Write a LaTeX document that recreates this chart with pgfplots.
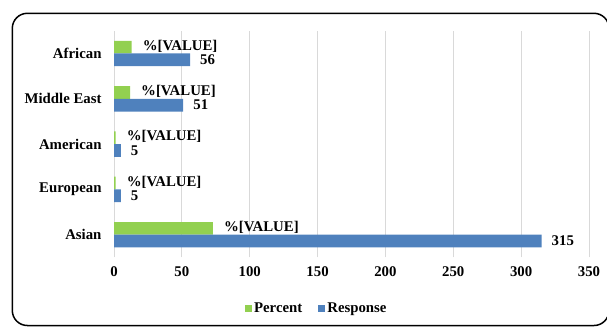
\documentclass[border=0pt]{standalone}
\usepackage{fontspec}
\setmainfont{Liberation Serif}
\usepackage{pgfplots}
\pgfplotsset{compat=1.18}
\definecolor{pgreen}{RGB}{146,208,80}
\definecolor{rblue}{RGB}{79,129,189}
\definecolor{gridgray}{RGB}{217,217,217}
\newcommand{\lblfont}{\fontsize{14.8bp}{17bp}\selectfont\bfseries}
\begin{document}
\begin{tikzpicture}[x=1bp,y=1bp]
\useasboundingbox (0,0) rectangle (607,327);
\begin{scope}
\clip (0,0) rectangle (607,327);
\draw[line width=1.5bp, rounded corners=15bp] (12.3,313.7) rectangle (609,1.5);
\end{scope}
\begin{axis}[
  at={(114bp,69.65bp)}, anchor=south west,
  scale only axis, width=475bp, height=226.5bp,
  xbar, bar width=12.7bp,
  xmin=0, xmax=350, ymin=-0.5, ymax=4.5,
  xtick={0,50,...,350},
  ytick={0,...,4},
  yticklabels={Asian,European,American,Middle East,African},
  axis line style={draw=none},
  major tick length=0pt,
  xmajorgrids, grid style={draw=gridgray, line width=0.9bp},
  /pgf/number format/assume math mode=true,
  tick label style={font=\lblfont},
  yticklabel style={anchor=east, xshift=-9bp},
  xticklabel style={anchor=center, yshift=-14bp},
  legend style={at={(axis description cs:0.427,-0.2247)}, anchor=center,
    draw=none, font=\lblfont, legend columns=2, inner sep=1bp,
    /tikz/every even column/.append style={column sep=14bp}},
  legend image code/.code={\fill[#1] (0bp,-3.5bp) rectangle (7bp,3.5bp);},
]
\addplot[draw=none, fill=pgreen, bar shift=6.35bp,
  nodes near coords={\%[VALUE]},
  nodes near coords style={anchor=west, xshift=9bp, yshift=1bp, font=\lblfont, inner sep=2bp}]
  coordinates {(72.9,0) (1.2,1) (1.2,2) (11.8,3) (13.0,4)};
\addlegendentry{Percent}
\addplot[draw=none, fill=rblue, bar shift=-6.35bp, point meta=x,
  nodes near coords,
  nodes near coords style={anchor=west, xshift=8bp, font=\lblfont, inner sep=2bp}]
  coordinates {(315,0) (5,1) (5,2) (51,3) (56,4)};
\addlegendentry{Response}
\end{axis}
\end{tikzpicture}
\end{document}
